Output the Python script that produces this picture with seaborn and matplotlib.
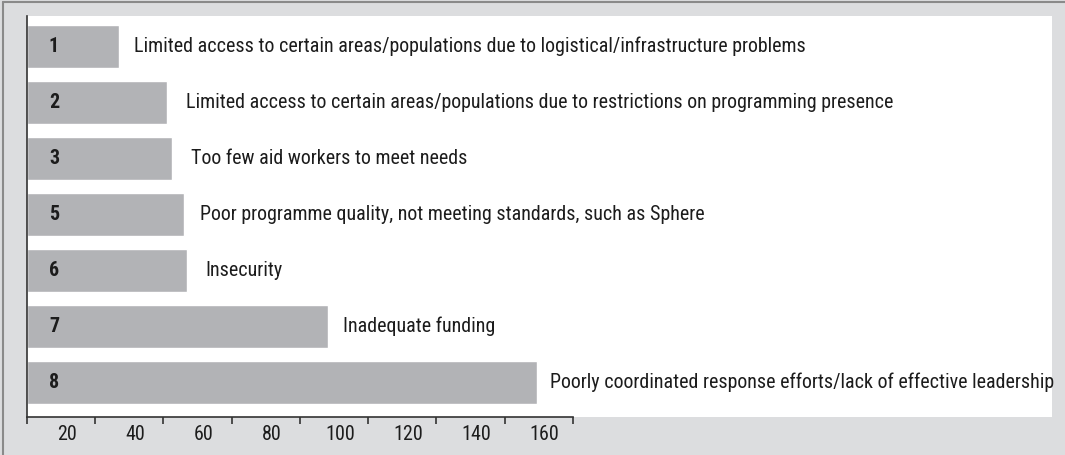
import matplotlib
matplotlib.use("Agg")
import matplotlib.pyplot as plt
from matplotlib.lines import Line2D
import seaborn as sns
import pandas as pd

# Data
ranks = ['1', '2', '3', '5', '6', '7', '8']
values = [27, 41, 42.6, 46, 47, 88.2, 149.4]
reasons = [
    'Limited access to certain areas/populations due to logistical/infrastructure problems',
    'Limited access to certain areas/populations due to restrictions on programming presence',
    'Too few aid workers to meet needs',
    'Poor programme quality, not meeting standards, such as Sphere',
    'Insecurity',
    'Inadequate funding',
    'Poorly coordinated response efforts/lack of effective leadership',
]
tick_values = [0, 20, 40, 60, 80, 100, 120, 140, 160]
tick_labels = ['20', '40', '60', '80', '100', '120', '140', '160']

# gap between bar end and its label, in pixels (as in the original)
label_gap_px = [15, 19.5, 18.5, 16, 18, 15, 13]

df = pd.DataFrame({'rank': ranks, 'value': values, 'reason': reasons})

sns.set_style('white')
plt.rcParams['font.family'] = ['Roboto Condensed', 'DejaVu Sans']
plt.rcParams['font.stretch'] = 'condensed'

bg = '#dcdddf'
bar_col = '#b2b3b6'
txt_col = '#1c1c1c'
fs = 14.4

fig = plt.figure(figsize=(10.65, 4.55), dpi=100, facecolor=bg)
ax = fig.add_axes([0.0251, 0.0842, 0.9627, 0.8806])
ax.set_facecolor('white')

sns.barplot(data=df, x='value', y='rank', order=ranks, color=bar_col,
            width=0.762, orient='h', saturation=1, ax=ax)

ax.set_xlim(0, 300.3)
ax.set_ylim(6.614, -0.541)

# rank numbers inside bars, reasons to the right
for i, row in df.iterrows():
    ax.text(6.5, i, row['rank'], va='center', ha='left', fontsize=fs,
            fontweight='bold', color=txt_col)
    ax.annotate(row['reason'], (row['value'], i), xytext=(label_gap_px[i] * 0.72, 0),
                textcoords='offset points', va='center', ha='left',
                fontsize=fs, color=txt_col, annotation_clip=False, clip_on=False)

# ticks at 0..160, labels sit between them
ax.set_xticks(tick_values)
ax.set_xticklabels([])
ax.set_xticks([v - 8.3 for v in tick_values[1:]], minor=True)
ax.set_xticklabels(tick_labels, minor=True, fontsize=fs, color=txt_col)
ax.tick_params(axis='x', which='major', direction='out', length=5, width=1.2, color='#333333', bottom=True)
ax.tick_params(axis='x', which='minor', length=0, pad=6)
ax.set_yticks([])
ax.set_xlabel('')
ax.set_ylabel('')

for s in ['top', 'right']:
    ax.spines[s].set_visible(False)
ax.spines['left'].set_color('#333333')
ax.spines['bottom'].set_color('#333333')
ax.spines['left'].set_linewidth(1.2)
ax.spines['bottom'].set_linewidth(1.2)
ax.spines['bottom'].set_bounds(0, 160)

# thin frame on top and left of the panel
fig.add_artist(Line2D([0.003, 1], [0.996, 0.996], color='#8a8a8a', lw=1.5, transform=fig.transFigure))
fig.add_artist(Line2D([0.003, 0.003], [0, 0.996], color='#8a8a8a', lw=1.5, transform=fig.transFigure))

fig.savefig('out.png', dpi=100, facecolor=bg)
